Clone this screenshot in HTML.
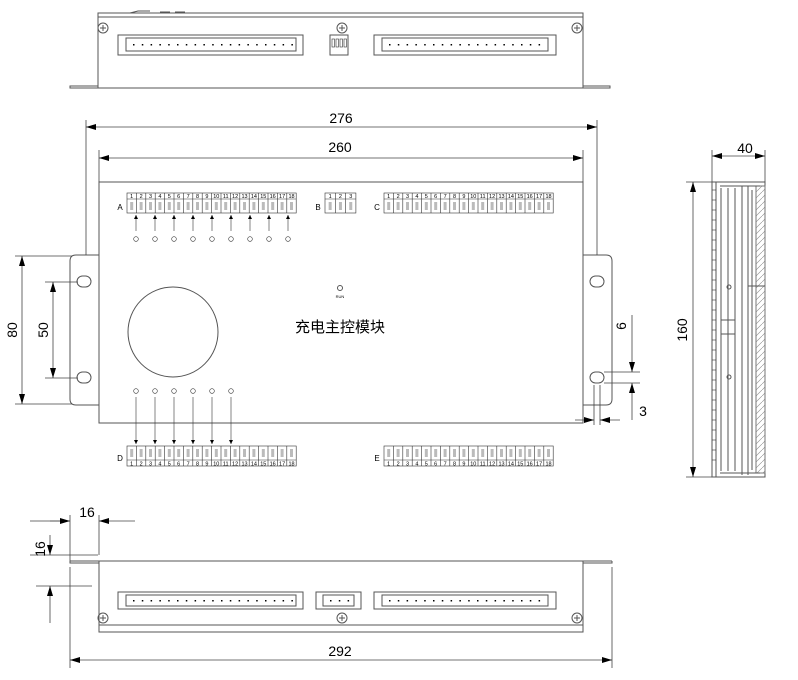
<!DOCTYPE html>
<html><head><meta charset="utf-8"><style>
html,body{margin:0;padding:0;background:#fff;width:798px;height:680px;overflow:hidden}
svg{display:block}
text{font-family:"Liberation Sans","Noto Sans CJK SC",sans-serif;fill:#000}
</style></head><body>
<svg id="s" width="798" height="680" viewBox="0 0 798 680" xmlns="http://www.w3.org/2000/svg">
<defs>
<marker id="ar" viewBox="0 0 10 6" refX="10" refY="3" markerWidth="14" markerHeight="6" markerUnits="userSpaceOnUse" orient="auto-start-reverse"><path d="M0,0L10,3L0,6z" fill="#000"/></marker>
<marker id="sa" viewBox="0 0 6 6" refX="6" refY="3" markerWidth="4" markerHeight="4" markerUnits="userSpaceOnUse" orient="auto"><path d="M0,0L6,3L0,6z" fill="#000"/></marker>
<pattern id="hp" width="6" height="6" patternUnits="userSpaceOnUse"><path d="M0,6L6,0" stroke="#888" stroke-width="0.6"/></pattern>
</defs>
<g fill="none" stroke="#555" stroke-width="1">
<!-- TOP VIEW -->
<rect x="98" y="13" width="485" height="75"/>
<line x1="98" y1="17" x2="583" y2="17"/>
<path d="M98,62V86H70v2H98M583,62V86h27v2H583"/>
<path d="M130,13l8,-2h12M160,12h10M175,12h10"/>
<rect x="118" y="35" width="185" height="20"/><rect x="126" y="38" width="170" height="13"/>
<rect x="330" y="35" width="18" height="20"/>
<rect x="374" y="35" width="182" height="20"/><rect x="382" y="38" width="166" height="13"/>
<circle cx="103" cy="28" r="5"/><circle cx="342" cy="28" r="5"/><circle cx="577" cy="28" r="5"/>
<path d="M100,28h6M103,25v6M339,28h6M342,25v6M574,28h6M577,25v6"/>
<!-- MAIN VIEW -->
<rect x="99" y="182" width="484" height="241"/>
<path d="M99,255H76q-6,0,-6,6V399q0,6,6,6H99"/>
<path d="M583,255H606q6,0,6,6V399q0,6,-6,6H583"/>
<rect x="77" y="276" width="14" height="11" rx="5.5"/><rect x="77" y="372" width="14" height="11" rx="5.5"/>
<rect x="590" y="276" width="14" height="11" rx="5.5"/><rect x="590" y="372" width="14" height="11" rx="5.5"/>
<circle cx="173" cy="332" r="45"/>
<circle cx="340" cy="288" r="2.5"/>
<!-- SIDE VIEW -->
<rect x="712" y="182" width="53" height="295"/>
<rect x="756" y="186" width="9" height="287" fill="url(#hp)" stroke="#777"/>
<path d="M716,182V477M721,188V471M728,188V471M735,188V471M742,186V475M748,186V475M752,190V470M720,186h40M720,473h40M748,286h17M721,320h14v14h-14"/>
<circle cx="729" cy="287" r="2"/><circle cx="729" cy="377" r="2"/>
<!-- BOTTOM VIEW -->
<path d="M70,561H612M70,561v2H99M612,561v2H583"/>
<rect x="99" y="561" width="484" height="64"/>
<rect x="99" y="625" width="484" height="7"/>
<rect x="118" y="592" width="185" height="17"/><rect x="126" y="595" width="170" height="11"/>
<rect x="316" y="592" width="45" height="17"/><rect x="323" y="595" width="31" height="11"/>
<rect x="374" y="592" width="182" height="17"/><rect x="382" y="595" width="166" height="11"/>
<circle cx="103" cy="618" r="5"/><circle cx="342" cy="618" r="5"/><circle cx="577" cy="618" r="5"/>
<path d="M100,618h6M103,615v6M339,618h6M342,615v6M574,618h6M577,615v6"/>
</g>
<g id="g" stroke="#333" stroke-width="0.6" fill="none"></g>
<g stroke="#444" stroke-width="0.8" fill="none">
<path d="M86,120V255M597,120V255M99,150V182M583,150V182"/>
<line x1="86" y1="127" x2="597" y2="127" marker-start="url(#ar)" marker-end="url(#ar)"/>
<line x1="99" y1="158" x2="583" y2="158" marker-start="url(#ar)" marker-end="url(#ar)"/>
<path d="M15,256H72M15,404H72M45,282H78M45,378H78"/>
<line x1="22" y1="256" x2="22" y2="404" marker-start="url(#ar)" marker-end="url(#ar)"/>
<line x1="53" y1="282" x2="53" y2="378" marker-start="url(#ar)" marker-end="url(#ar)"/>
<path d="M604,372H640M604,383H640M594,385V425M600,385V425"/>
<line x1="632" y1="315" x2="632" y2="372" marker-end="url(#ar)"/>
<line x1="632" y1="420" x2="632" y2="383" marker-end="url(#ar)"/>
<line x1="575" y1="420" x2="594" y2="420" marker-end="url(#ar)"/>
<line x1="620" y1="420" x2="600" y2="420" marker-end="url(#ar)"/>
<path d="M712,150V182M765,150V182M686,182H712M686,477H712"/>
<line x1="712" y1="156" x2="765" y2="156" marker-start="url(#ar)" marker-end="url(#ar)"/>
<line x1="693" y1="182" x2="693" y2="477" marker-start="url(#ar)" marker-end="url(#ar)"/>
<path d="M70,515V561M99,515V555M30,521H70M30,555H98M36,586H92M70,567V668M612,567V668"/>
<line x1="50" y1="521" x2="70" y2="521" marker-end="url(#ar)"/>
<line x1="135" y1="521" x2="99" y2="521" marker-end="url(#ar)"/>
<line x1="50" y1="535" x2="50" y2="555" marker-end="url(#ar)"/>
<line x1="50" y1="623" x2="50" y2="586" marker-end="url(#ar)"/>
<line x1="70" y1="660" x2="612" y2="660" marker-start="url(#ar)" marker-end="url(#ar)"/>
</g>
<g font-size="14" text-anchor="middle">
<text x="341" y="123">276</text>
<text x="340" y="152">260</text>
<text x="745" y="153">40</text>
<text x="340" y="656">292</text>
<text x="87" y="517">16</text>
<text x="643" y="416">3</text>
<text transform="translate(17,330) rotate(-90)">80</text>
<text transform="translate(48,330) rotate(-90)">50</text>
<text transform="translate(626,326) rotate(-90)">6</text>
<text transform="translate(687,330) rotate(-90)">160</text>
<text transform="translate(45,549) rotate(-90)">16</text>
<text x="340" y="332" font-size="15">充电主控模块</text>
</g>
<g font-size="8" text-anchor="middle">
<text x="120" y="210">A</text><text x="318" y="210">B</text><text x="377" y="210">C</text>
<text x="120" y="461">D</text><text x="377" y="461">E</text>
<text x="340" y="298" font-size="4">RUN</text>
</g>
</svg>
<script>
var g=document.getElementById('g'),NS='http://www.w3.org/2000/svg';
function el(t,a,txt){var e=document.createElementNS(NS,t);for(var k in a)e.setAttribute(k,a[k]);if(txt!=null)e.textContent=txt;g.appendChild(e);return e;}
function term(x,y,n,w,numTop){
 el('rect',{x:x,y:y,width:n*w,height:20});
 var ny=numTop?y+6:y+14;
 el('line',{x1:x,y1:ny,x2:x+n*w,y2:ny});
 for(var i=0;i<n;i++){
  if(i)el('line',{x1:x+i*w,y1:y,x2:x+i*w,y2:y+20});
  el('text',{x:x+i*w+w/2,y:numTop?y+5:y+19.3,'font-size':5.5,'text-anchor':'middle',stroke:'none'},''+(i+1));
  el('rect',{x:x+i*w+w/2-1.5,y:numTop?y+9:y+3,width:3,height:8,fill:'#bbb',stroke:'none'});
 }
}
term(127,193,18,9.4,true);term(325,193,3,10.3,true);term(384,193,18,9.4,true);
term(127,446,18,9.4,false);term(384,446,18,9.4,false);
for(var i=0;i<9;i++){var x=136+i*19;el('circle',{cx:x,cy:239,r:2.3});el('line',{x1:x,y1:231,x2:x,y2:215,'marker-end':'url(#sa)'});}
for(var i=0;i<6;i++){var x=136+i*19;el('circle',{cx:x,cy:391,r:2.3});el('line',{x1:x,y1:397,x2:x,y2:444,'marker-end':'url(#sa)'});}
function pins(x0,x1,y){for(var x=x0;x<=x1;x+=8.8)el('rect',{x:x,y:y,width:1.5,height:1.5,fill:'#000',stroke:'none'});}
pins(133,292,44);pins(389,545,44);pins(133,292,600);pins(389,545,600);pins(330,350,600);
for(var i=0;i<4;i++)el('rect',{x:332+i*4,y:39,width:2.5,height:8});
for(var y=190;y<470;y+=10)el('line',{x1:712,y1:y,x2:716,y2:y});
</script>
</body></html>
